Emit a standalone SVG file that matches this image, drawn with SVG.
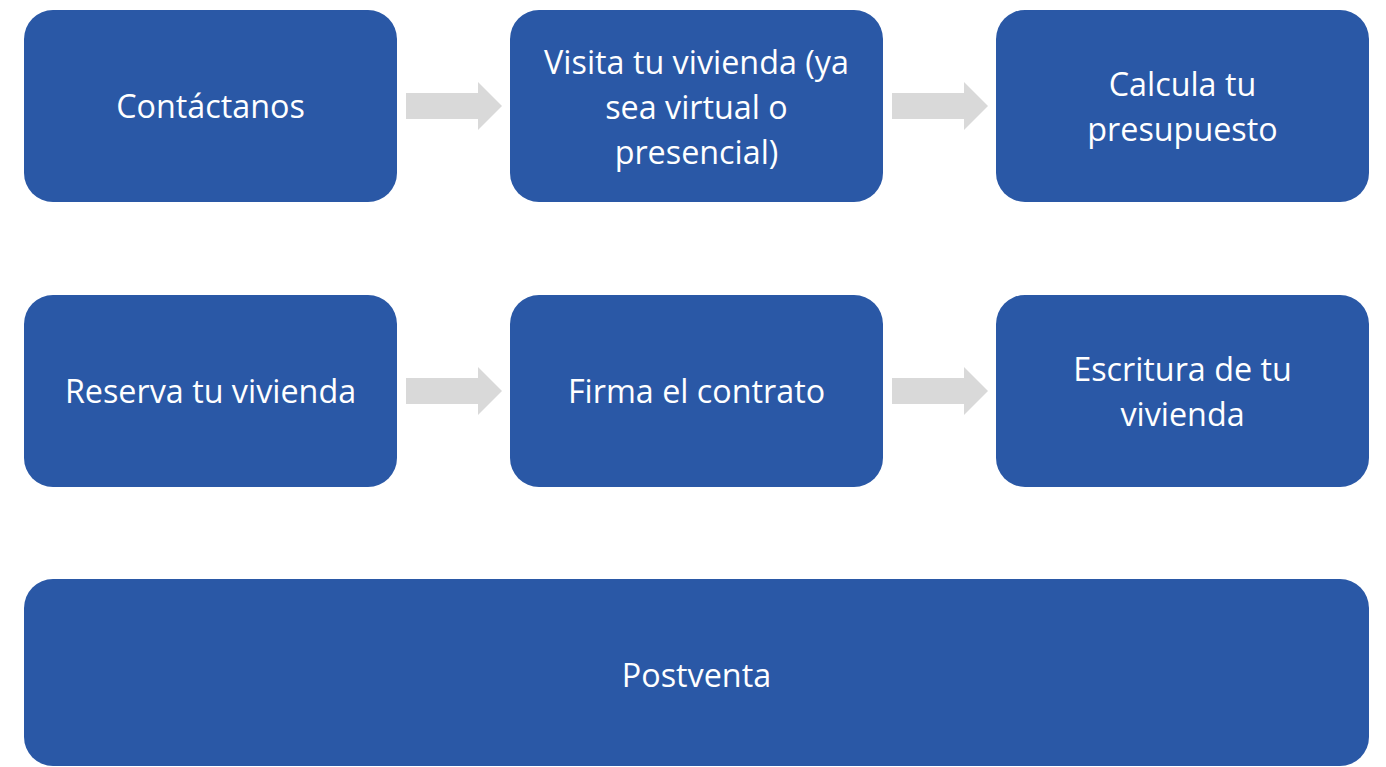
<svg xmlns="http://www.w3.org/2000/svg" width="1386" height="767" viewBox="0 0 1386 767">
<style>
.box{fill:#2A58A6;}
.t{font-family:"Open Sans",Lato,"Liberation Sans",sans-serif;font-size:32.3px;fill:#ffffff;text-anchor:middle;}
.arr{fill:#D9D9D9;}
</style>
<defs>
<path id="arrow" class="arr" d="M0,-13 H72 V-24 L96,0 L72,24 V13 H0 Z"/>
</defs>
<rect width="1386" height="767" fill="#ffffff"/>
<g id="connectors">
<use href="#arrow" x="406" y="106"/>
<use href="#arrow" x="892" y="106"/>
<use href="#arrow" x="406" y="391"/>
<use href="#arrow" x="892" y="391"/>
</g>
<g id="n1"><rect class="box" x="24" y="10" width="373" height="192" rx="29"/><text class="t" x="210.5" y="118">Contáctanos</text></g>
<g id="n2"><rect class="box" x="510" y="10" width="373" height="192" rx="29"/><text class="t" x="696.5" y="74">Visita tu vivienda (ya</text><text class="t" x="696.5" y="119">sea virtual o</text><text class="t" x="696.5" y="164">presencial)</text></g>
<g id="n3"><rect class="box" x="996" y="10" width="373" height="192" rx="29"/><text class="t" x="1182.5" y="96">Calcula tu</text><text class="t" x="1182.5" y="141">presupuesto</text></g>
<g id="n4"><rect class="box" x="24" y="295" width="373" height="192" rx="29"/><text class="t" x="210.5" y="403">Reserva tu vivienda</text></g>
<g id="n5"><rect class="box" x="510" y="295" width="373" height="192" rx="29"/><text class="t" x="696.5" y="403">Firma el contrato</text></g>
<g id="n6"><rect class="box" x="996" y="295" width="373" height="192" rx="29"/><text class="t" x="1182.5" y="381">Escritura de tu</text><text class="t" x="1182.5" y="426">vivienda</text></g>
<g id="n7"><rect class="box" x="24" y="579" width="1345" height="187" rx="29"/><text class="t" x="696.5" y="687">Postventa</text></g>
</svg>
